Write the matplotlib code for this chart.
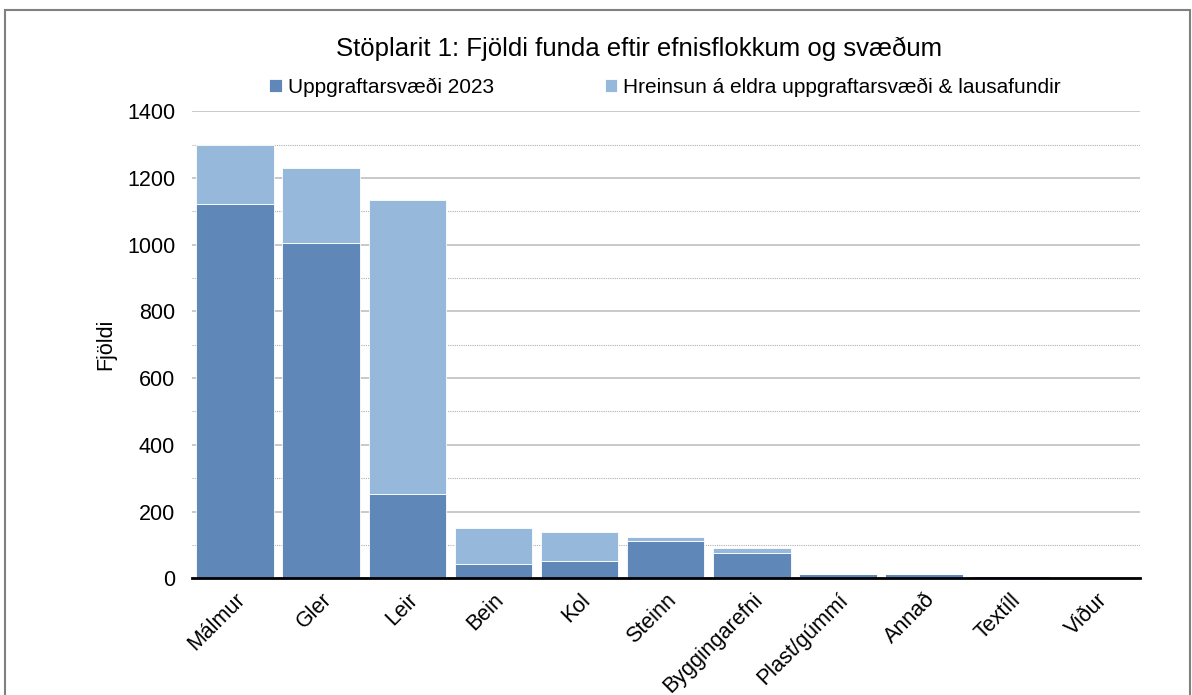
import matplotlib.pyplot as plt
from matplotlib.patches import Rectangle
from matplotlib.ticker import MultipleLocator

plt.rcParams['font.family'] = ['Liberation Sans', 'DejaVu Sans']

flokkar = ["Málmur", "Gler", "Leir", "Bein", "Kol", "Steinn", "Byggingarefni",
           "Plast/gúmmí", "Annað", "Textíll", "Viður"]
uppgraftur_2023 = [1121, 1004, 252, 42, 51, 113, 76, 12, 13, 7, 1]
hreinsun = [177, 225, 881, 108, 88, 10, 16, 1, 1, 1, 0]

fig = plt.figure(figsize=(11.92, 6.95), dpi=100)
ax = fig.add_axes([0.161, 0.168, 0.795, 0.672])

dark = "#5f87b8"
light = "#96b8db"
x = range(len(flokkar))
ax.bar(x, uppgraftur_2023, width=0.9, color=dark, edgecolor="white", linewidth=0.6,
       label="Uppgraftarsvæði 2023", zorder=3)
ax.bar(x, hreinsun, bottom=uppgraftur_2023, width=0.9, color=light, edgecolor="white",
       linewidth=0.6, label="Hreinsun á eldra uppgraftarsvæði & lausafundir", zorder=3)

ax.set_xlim(-0.5, len(flokkar) - 0.5)
ax.set_ylim(0, 1400)
ax.yaxis.set_major_locator(MultipleLocator(200))
ax.yaxis.set_minor_locator(MultipleLocator(100))
ax.grid(axis="y", which="major", color="#c0c0c0", linewidth=1.2, zorder=0)
ax.grid(axis="y", which="minor", color="#b0b0b0", linewidth=0.8, linestyle=(0, (1, 1)), zorder=0)
ax.tick_params(axis="y", which="both", length=0, labelsize=15.5, pad=12)
ax.tick_params(axis="x", length=0, labelsize=15.5, pad=8)
for s in ["top", "right", "left"]:
    ax.spines[s].set_visible(False)
ax.spines["bottom"].set_linewidth(2.0)
ax.spines["bottom"].set_zorder(4)

ax.set_xticks(list(x))
ax.set_xticklabels(flokkar, rotation=45, ha="right", rotation_mode="anchor")
ax.set_ylabel("Fjöldi", fontsize=15.5, labelpad=8)

fig.text(0.536, 0.93, "Stöplarit 1: Fjöldi funda eftir efnisflokkum og svæðum",
         ha="center", va="center", fontsize=18.5)
fig.legend(loc="center", bbox_to_anchor=(0.558, 0.874), ncol=2, frameon=False,
           fontsize=15, handlelength=0.6, handleheight=0.6, handletextpad=0.3,
           columnspacing=5.3)

fig.patches.append(Rectangle((0.004, -0.05), 0.994, 1.035, transform=fig.transFigure,
                             fill=False, edgecolor="#808080", linewidth=1.5))

fig.savefig("out.png", dpi=100)
